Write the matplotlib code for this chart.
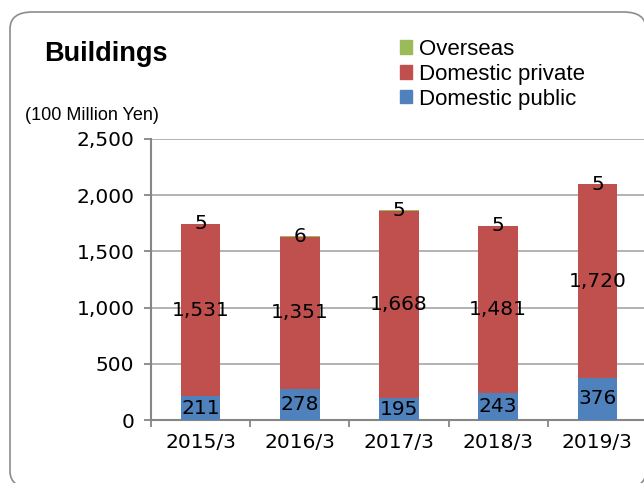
import matplotlib
matplotlib.use('Agg')
import matplotlib.pyplot as plt
from matplotlib.patches import FancyBboxPatch, Patch

years = ['2015/3', '2016/3', '2017/3', '2018/3', '2019/3']
public = [211, 278, 195, 243, 376]
private = [1531, 1351, 1668, 1481, 1720]
overseas = [5, 6, 5, 5, 5]

c_pub = '#4F81BD'
c_priv = '#C0504D'
c_ovs = '#9BBB59'
num_font = ['DejaVu Sans']
txt_font = ['Liberation Sans', 'DejaVu Sans']
num_size = 14.5

W, H = 644, 483
fig = plt.figure(figsize=(W / 100, H / 100), dpi=100)

# rounded outer frame (right and bottom edges run off the picture)
frame = FancyBboxPatch((10 / W, -5 / H), 636 / W, 476 / H,
                       boxstyle='round,pad=0,rounding_size=0.035',
                       transform=fig.transFigure, facecolor='white',
                       edgecolor='#8C8C8C', linewidth=1.2, zorder=0)
fig.patches.append(frame)

ax = fig.add_axes([151 / W, (H - 420) / H, 496 / W, 281 / H])
ax.set_zorder(2)
ax.set_facecolor('white')

x = list(range(len(years)))
bw = 0.4
bottom2 = [a + b for a, b in zip(public, private)]
ax.bar(x, public, bw, color=c_pub, zorder=3)
ax.bar(x, private, bw, bottom=public, color=c_priv, zorder=3)
ax.bar(x, overseas, bw, bottom=bottom2, color=c_ovs, zorder=3)

for i in x:
    ax.text(i, public[i] / 2, f'{public[i]:,}', ha='center', va='center',
            fontsize=num_size, family=num_font, zorder=4)
    ax.text(i, public[i] + private[i] / 2, f'{private[i]:,}', ha='center',
            va='center', fontsize=num_size, family=num_font, zorder=4)
    ax.text(i, bottom2[i] + overseas[i] / 2, f'{overseas[i]:,}', ha='center',
            va='center', fontsize=num_size, family=num_font, zorder=4)

ax.set_xlim(-0.5, 4.5)
ax.set_ylim(0, 2500)
ax.set_yticks([0, 500, 1000, 1500, 2000, 2500])
ax.set_yticklabels(['0', '500', '1,000', '1,500', '2,000', '2,500'],
                   family=num_font, fontsize=num_size)
ax.set_xticks(x)
ax.set_xticklabels(years, family=num_font, fontsize=num_size)
ax.set_xticks([i - 0.5 for i in range(len(years) + 1)], minor=True)
ax.tick_params(axis='x', which='major', length=0, pad=9)
ax.tick_params(axis='x', which='minor', length=5, color='#868686', width=1.3)
ax.tick_params(axis='y', length=5, color='#868686', width=1.3, pad=7)
ax.yaxis.grid(True, color='#A6A6A6', linewidth=1.2, zorder=0)
ax.set_axisbelow(True)
for s in ['top', 'right']:
    ax.spines[s].set_visible(False)
for s in ['left', 'bottom']:
    ax.spines[s].set_color('#868686')
    ax.spines[s].set_linewidth(1.5)

fig.text(44 / W, 1 - 54 / H, 'Buildings', fontsize=19.5, fontweight='bold',
         family=txt_font, va='center', ha='left')
fig.text(25 / W, 1 - 115 / H, '(100 Million Yen)', fontsize=13,
         family=txt_font, va='center', ha='left')

handles = [Patch(color=c_ovs, label='Overseas'),
           Patch(color=c_priv, label='Domestic private'),
           Patch(color=c_pub, label='Domestic public')]
fig.legend(handles=handles, loc='upper left', bbox_to_anchor=(400 / W, 1 - 39 / H),
           frameon=False, prop={'family': txt_font, 'size': 16},
           handlelength=0.55, handleheight=0.55, handletextpad=0.3,
           labelspacing=0.17, borderpad=0, borderaxespad=0)

fig.savefig('out.png', dpi=100)
